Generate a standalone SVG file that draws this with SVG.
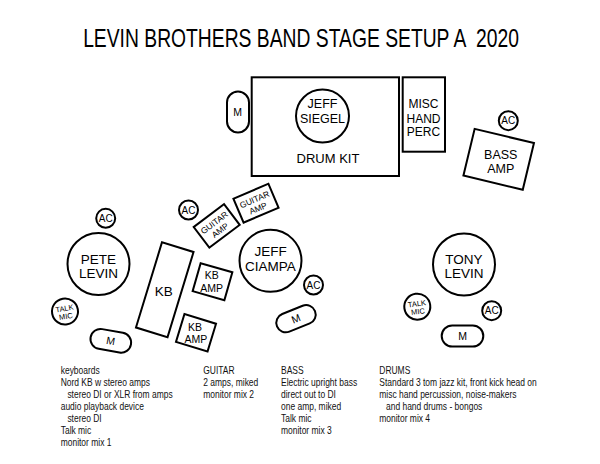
<svg xmlns="http://www.w3.org/2000/svg" width="600" height="464" viewBox="0 0 600 464">
<style>
.s{fill:#fff;stroke:#000;stroke-width:2}
.t{font-family:"Liberation Sans",Arial,sans-serif;fill:#000;text-anchor:middle}
.b{font-family:"Liberation Sans",Arial,sans-serif;font-size:11px;fill:#111}
.n{font-size:13.5px}
.ac{font-size:10px}
.sm{font-size:10.5px}
</style>
<rect width="600" height="464" fill="#fff"/>
<g id="title" transform="translate(301,47) scale(0.772,1)">
<text class="t" x="0" y="0" xml:space="preserve" font-size="25">LEVIN BROTHERS BAND STAGE SETUP A  2020</text>
</g>

<g id="connectors"/>

<g id="drum-kit">
<rect class="s" x="251.7" y="77.3" width="147.3" height="98.7"/>
<text class="t" x="328" y="162.7" font-size="13">DRUM KIT</text>
</g>
<g id="jeff-siegel">
<circle class="s" cx="322.5" cy="116" r="26.5"/>
<text class="t" x="322.5" y="107.5" font-size="12.5">JEFF</text>
<text class="t" x="322.5" y="122.5" font-size="12.5">SIEGEL</text>
</g>
<g id="misc-hand-perc">
<rect class="s" x="402.7" y="77.3" width="42.3" height="74.4"/>
<text class="t" x="423.5" y="107.7" font-size="12">MISC</text>
<text class="t" x="423.5" y="122.7" font-size="12">HAND</text>
<text class="t" x="423.5" y="136" font-size="12">PERC</text>
</g>
<g id="drum-monitor">
<rect class="s" x="227" y="91.5" width="22" height="41" rx="11"/>
<text class="t sm" x="237.5" y="115.5">M</text>
</g>

<g id="bass-amp">
<rect class="s" x="-30.5" y="-24" width="61" height="48" transform="translate(498.7,159.3) rotate(13.5)"/>
<text class="t" x="500.8" y="159.3" font-size="12.5">BASS</text>
<text class="t" x="500.8" y="173.3" font-size="12.5">AMP</text>
</g>
<g id="ac-bass">
<circle class="s" cx="508.3" cy="120.7" r="9.5"/>
<text class="t ac" x="508.3" y="124.3">AC</text>
</g>

<g id="guitar-amp-1" transform="translate(216.7,225.9) rotate(-37)">
<rect class="s" x="-19" y="-13" width="38" height="26"/>
<text class="t" x="0" y="-1" font-size="8.5">GUITAR</text>
<text class="t" x="0" y="8.5" font-size="8.5">AMP</text>
</g>
<g id="guitar-amp-2" transform="translate(256,203.2) rotate(-23)">
<rect class="s" x="-19" y="-13" width="38" height="26"/>
<text class="t" x="0" y="-1" font-size="8.5">GUITAR</text>
<text class="t" x="0" y="8.5" font-size="8.5">AMP</text>
</g>
<g id="ac-guitar">
<circle class="s" cx="188.5" cy="210" r="9.5"/>
<text class="t ac" x="188.5" y="213.6">AC</text>
</g>

<g id="pete-levin">
<circle class="s" cx="98.5" cy="264" r="31"/>
<text class="t n" x="98.5" y="264">PETE</text>
<text class="t n" x="98.5" y="278">LEVIN</text>
</g>
<g id="ac-pete">
<circle class="s" cx="105.7" cy="218.3" r="9.5"/>
<text class="t ac" x="105.7" y="221.9">AC</text>
</g>
<g id="talk-mic-pete" transform="translate(65,311.5) rotate(-10)">
<circle class="s" cx="0" cy="0" r="13"/>
<text class="t" x="0" y="-0.5" font-size="7.5">TALK</text>
<text class="t" x="0" y="7.5" font-size="7.5">MIC</text>
</g>
<g id="monitor-pete" transform="translate(110.8,340.8) rotate(10)">
<rect class="s" x="-20.5" y="-10" width="41" height="20" rx="10"/>
<text class="t sm" x="0" y="3.8">M</text>
</g>

<g id="kb">
<rect class="s" x="-16.5" y="-44.5" width="33" height="89" transform="translate(164.75,289.75) rotate(17)"/>
<text class="t" x="163.8" y="296" font-size="13.5">KB</text>
</g>
<g id="kb-amp-1">
<rect class="s" x="-16.5" y="-14.5" width="33" height="29" transform="translate(212.5,281.7) rotate(16)"/>
<text class="t sm" x="211.7" y="279.3">KB</text>
<text class="t sm" x="211.7" y="292">AMP</text>
</g>
<g id="kb-amp-2">
<rect class="s" x="-16.5" y="-14.5" width="33" height="29" transform="translate(196,332.8) rotate(17)"/>
<text class="t sm" x="195" y="330.7">KB</text>
<text class="t sm" x="196" y="343.3">AMP</text>
</g>

<g id="jeff-ciampa">
<circle class="s" cx="270.5" cy="260.8" r="31"/>
<text class="t n" x="270.5" y="256.3">JEFF</text>
<text class="t n" x="270.5" y="270.5">CIAMPA</text>
</g>
<g id="ac-ciampa">
<circle class="s" cx="313.5" cy="285" r="9.5"/>
<text class="t ac" x="313.5" y="288.6">AC</text>
</g>
<g id="monitor-ciampa" transform="translate(296,318.7) rotate(-22)">
<rect class="s" x="-20.5" y="-9.5" width="41" height="19" rx="9.5"/>
<text class="t sm" x="0" y="3.8">M</text>
</g>

<g id="tony-levin">
<circle class="s" cx="464" cy="264.5" r="31"/>
<text class="t n" x="464" y="264">TONY</text>
<text class="t n" x="464" y="278">LEVIN</text>
</g>
<g id="talk-mic-tony" transform="translate(417.3,306.7) rotate(-8)">
<circle class="s" cx="0" cy="0" r="13"/>
<text class="t" x="0" y="-0.5" font-size="7.5">TALK</text>
<text class="t" x="0" y="7.5" font-size="7.5">MIC</text>
</g>
<g id="ac-tony">
<circle class="s" cx="491.7" cy="310.7" r="9.5"/>
<text class="t ac" x="491.7" y="314.3">AC</text>
</g>
<g id="monitor-tony">
<rect class="s" x="441.7" y="325.5" width="41.6" height="21" rx="10.5"/>
<text class="t sm" x="462.5" y="339.8">M</text>
</g>

<g id="notes-keyboards" transform="translate(60.7,0) scale(0.77,1)">
<text class="b" x="0" y="374.5">keyboards</text>
<text class="b" x="0" y="386.5">Nord KB w stereo amps</text>
<text class="b" x="8.7" y="398.5">stereo DI or XLR from amps</text>
<text class="b" x="0" y="410.5">audio playback device</text>
<text class="b" x="8.7" y="422.5">stereo DI</text>
<text class="b" x="0" y="434.5">Talk mic</text>
<text class="b" x="0" y="446.5">monitor mix 1</text>
</g>
<g id="notes-guitar" transform="translate(203.3,0) scale(0.77,1)">
<text class="b" x="0" y="374.5">GUITAR</text>
<text class="b" x="0" y="386.5">2 amps, miked</text>
<text class="b" x="0" y="398.5">monitor mix 2</text>
</g>
<g id="notes-bass" transform="translate(281,0) scale(0.77,1)">
<text class="b" x="0" y="374.5">BASS</text>
<text class="b" x="0" y="386.5">Electric upright bass</text>
<text class="b" x="0" y="398.5">direct out to DI</text>
<text class="b" x="0" y="410.5">one amp, miked</text>
<text class="b" x="0" y="422.5">Talk mic</text>
<text class="b" x="0" y="434.5">monitor mix 3</text>
</g>
<g id="notes-drums" transform="translate(379.3,0) scale(0.77,1)">
<text class="b" x="0" y="374.5">DRUMS</text>
<text class="b" x="0" y="386.5">Standard 3 tom jazz kit, front kick head on</text>
<text class="b" x="0" y="398.5">misc hand percussion, noise-makers</text>
<text class="b" x="8.7" y="410.5">and hand drums - bongos</text>
<text class="b" x="0" y="422.5">monitor mix 4</text>
</g>
</svg>
